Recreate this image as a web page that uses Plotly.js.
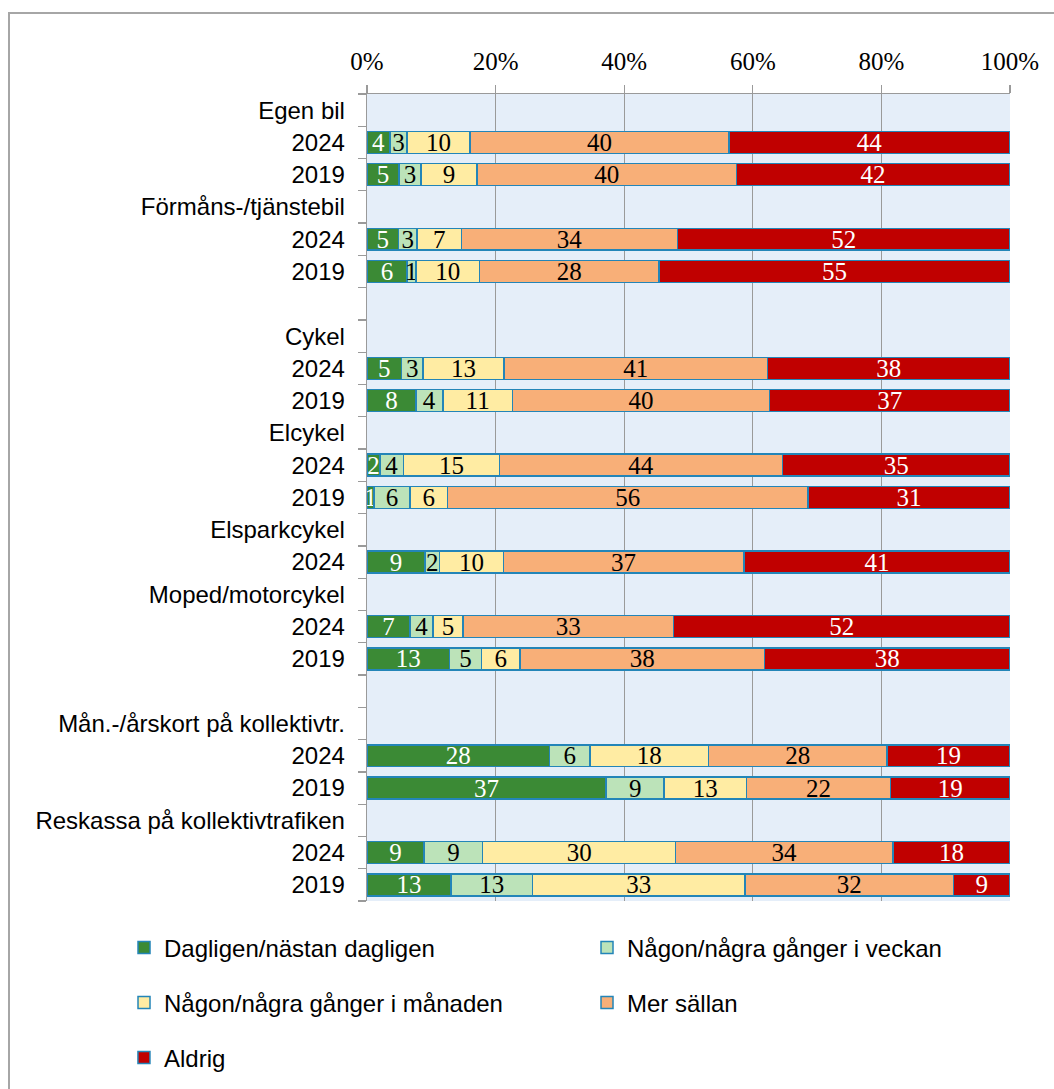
<!DOCTYPE html>
<html>
<head>
<meta charset="utf-8">
<script src="https://cdn.plot.ly/plotly-3.0.1.min.js"></script>
<style>
html,body{margin:0;padding:0;background:#fff;overflow:hidden;}
#chart{width:1054px;height:1089px;}
#frame{position:absolute;left:8px;top:12px;width:1200px;height:1200px;border-left:2px solid #a6a6a6;border-top:2px solid #a6a6a6;pointer-events:none;}
</style>
</head>
<body>
<div id="chart"></div>
<div id="frame"></div>
<script>
// Row labels (group headers, years, blank spacer rows)
const rowLabels = [
  'Egen bil', '2024', '2019',
  'Förmåns-/tjänstebil', '2024', '2019',
  '',
  'Cykel', '2024', '2019',
  'Elcykel', '2024', '2019',
  'Elsparkcykel', '2024',
  'Moped/motorcykel', '2024', '2019',
  '',
  'Mån.-/årskort på kollektivtr.', '2024', '2019',
  'Reskassa på kollektivtrafiken', '2024', '2019'
];

// Series values in percent (null = header / spacer row)
const dagligen = [null,3.6,5.0, null,4.9,6.2, null, null,5.4,7.6, null,2.0,1.1, null,9.0, null,6.7,12.8, null, null,28.4,37.2, null,8.9,13.1];
const veckan   = [null,2.6,3.4, null,2.9,1.4, null, null,3.3,4.2, null,3.7,5.6, null,2.3, null,3.6,5.0,  null, null,6.3,9.0,   null,9.1,12.6];
const manaden  = [null,9.8,8.7, null,6.9,9.9, null, null,12.6,10.8, null,14.9,5.8, null,9.9, null,4.6,6.0, null, null,18.4,12.8, null,30.0,33.1];
const sallan   = [null,40.3,40.4, null,33.6,27.9, null, null,41.0,40.0, null,44.0,56.1, null,37.4, null,32.8,38.0, null, null,27.8,22.4, null,33.8,32.4];
const aldrig   = [null,43.7,42.4, null,51.7,54.6, null, null,37.7,37.4, null,35.4,31.4, null,41.4, null,52.3,38.2, null, null,19.1,18.6, null,18.2,8.8];

const seriesNames = [
  'Dagligen/nästan dagligen',
  'Någon/några gånger i veckan',
  'Någon/några gånger i månaden',
  'Mer sällan',
  'Aldrig'
];
const xTickVals = [0, 20, 40, 60, 80, 100];
const xTickText = ['0%', '20%', '40%', '60%', '80%', '100%'];

const rowIdx = rowLabels.map((_, i) => i);
const boundaries = [-0.5].concat(rowIdx.map(i => i + 0.5));

const seriesValues = [dagligen, veckan, manaden, sallan, aldrig];
const colors = ['#3B8A35', '#BCE3B9', '#FFECA3', '#F8AF78', '#C00000'];
const textColors = ['#ffffff', '#000000', '#000000', '#000000', '#ffffff'];
const legendSlots = ['legend', 'legend', 'legend2', 'legend2', 'legend3'];

const traces = seriesValues.map((vals, k) => ({
  type: 'bar',
  orientation: 'h',
  name: seriesNames[k],
  y: rowIdx,
  x: vals,
  legend: legendSlots[k],
  marker: {color: colors[k], line: {color: '#2385B8', width: 1.5}},
  texttemplate: '%{x:.0f}',
  textposition: 'inside',
  insidetextanchor: 'middle',
  constraintext: 'none',
  textangle: 0,
  cliponaxis: false,
  textfont: {family: 'Liberation Serif, Times New Roman, serif', size: 25, color: textColors[k]},
  hoverinfo: 'skip'
}));

const gray = '#9a9a9a';
const legendBase = {
  orientation: 'h',
  traceorder: 'normal',
  x: -0.3779,
  xanchor: 'left',
  yanchor: 'middle',
  entrywidth: 418,
  entrywidthmode: 'pixels',
  bgcolor: 'rgba(0,0,0,0)',
  font: {family: 'Liberation Sans, Arial, sans-serif', size: 24, color: '#000'},
  itemclick: false,
  itemdoubleclick: false
};

const layout = {
  width: 1054,
  height: 1089,
  margin: {l: 367, r: 44, t: 94, b: 188},
  paper_bgcolor: 'rgba(0,0,0,0)',
  plot_bgcolor: '#E5EEF9',
  barmode: 'stack',
  bargap: 0.32,
  showlegend: true,
  xaxis: {
    side: 'top',
    range: [0, 100],
    tickmode: 'array',
    tickvals: xTickVals,
    ticktext: xTickText,
    ticks: 'outside',
    ticklen: 8,
    tickwidth: 1.3,
    tickcolor: gray,
    ticklabelstandoff: 5,
    showgrid: true,
    gridcolor: gray,
    gridwidth: 1.3,
    showline: true,
    linecolor: gray,
    linewidth: 1.3,
    zeroline: false,
    tickfont: {family: 'Liberation Serif, Times New Roman, serif', size: 25, color: '#000'},
    fixedrange: true
  },
  yaxis: {
    range: [24.5, -0.5],
    tickmode: 'array',
    tickvals: rowIdx,
    ticktext: rowLabels,
    ticks: '',
    ticklabelstandoff: 16,
    minor: {tickmode: 'array', tickvals: boundaries, ticks: 'outside', ticklen: 8, tickwidth: 1.3, tickcolor: gray, showgrid: false},
    showgrid: false,
    zeroline: false,
    showline: true,
    linecolor: gray,
    linewidth: 1.3,
    tickfont: {family: 'Liberation Sans, Arial, sans-serif', size: 24, color: '#000'},
    fixedrange: true
  },
  legend: Object.assign({}, legendBase, {y: -0.0582}),
  legend2: Object.assign({}, legendBase, {y: -0.1264}),
  legend3: Object.assign({}, legendBase, {xref: 'container', yref: 'container', x: 0.1176, y: 0.0285})
};

Plotly.newPlot('chart', traces, layout, {staticPlot: true, displayModeBar: false});
</script>
</body>
</html>
